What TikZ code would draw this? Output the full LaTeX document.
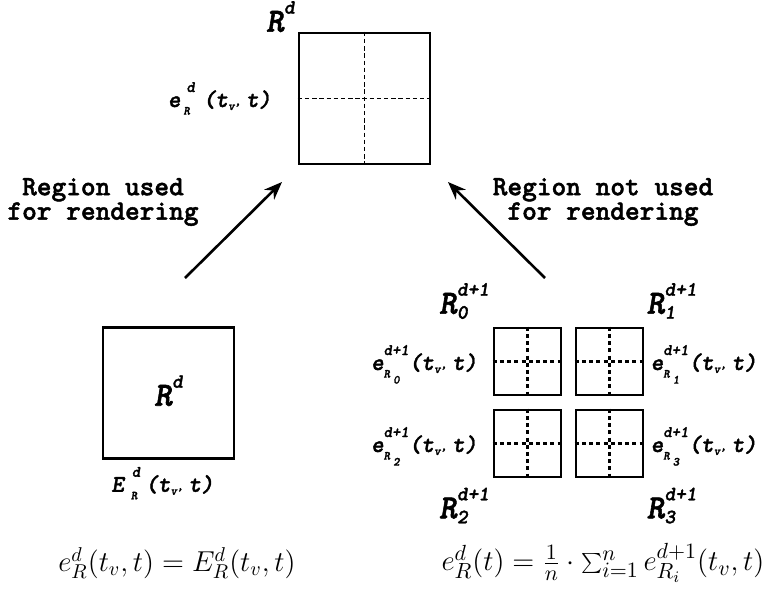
\documentclass[tikz,border=0pt]{standalone}
\usepackage{fontspec}
\usetikzlibrary{arrows.meta}

\newfontfamily\courupfont{lmmonolt10-bold.otf}[FakeBold=1.6]
\newfontfamily\courslfont{lmmonolt10-boldoblique.otf}[FakeBold=1.6]

\newcommand{\bigfont}{\courslfont\fontsize{17}{20}\selectfont}
\newcommand{\midfont}{\courslfont\fontsize{10.2}{12}\selectfont}
\newcommand{\lblfont}{\courslfont\fontsize{12}{14}\selectfont}
\newcommand{\supfont}{\courslfont\fontsize{8}{9}\selectfont}
\newcommand{\subfont}{\courslfont\fontsize{6.2}{7}\selectfont}
\newcommand{\notefont}{\courupfont\fontsize{14}{12.2}\selectfont}

% stacked superscript / subscript (sup, raise, sub, lower)
\newcommand{\supsub}[4]{%
\setbox0\hbox{#1}\setbox2\hbox{#3}%
\ifdim\wd0>\wd2 \dimen0=\wd0 \else \dimen0=\wd2 \fi
\rlap{\raise#2\box0}\lower#4\hbox to\dimen0{\box2\hfil}}

\newcommand{\regname}[2]{{\bigfont R}\supsub{\midfont #1}{9pt}{\midfont #2}{2.5pt}}
\newcommand{\errname}[3]{{\lblfont #1}\supsub{\supfont #2}{7.5pt}{\subfont #3}{3.8pt}%
{\lblfont (t}\lower1.5pt\hbox{\subfont v\raise2.5pt\hbox{,}}\kern2.5pt{\lblfont t)}}

\begin{document}
\begin{tikzpicture}[
x=0.5pt,y=-0.5pt,
regionbox/.style={draw,line width=1.3pt,minimum size=65.5pt,inner sep=0pt},
childbox/.style={draw,line width=1.3pt,minimum size=33.5pt,inner sep=0pt},
split/.style={line width=0.9pt,dash pattern=on 2.2pt off 1.4pt},
childsplit/.style={line width=1.1pt,dash pattern=on 2pt off 1.6pt},
tag/.style={inner sep=0pt},
pointer/.style={line width=1.3pt,-{Stealth[length=9pt,width=7pt]}}
]

\useasboundingbox (0,0) rectangle (768,590);

%%%%%%%%%%%%%%%%%%%%%%%%%%%%%%%%%%%%%%%%%%%%%%%%%%%%%%%%%%%%%%
% PARENT REGION
%%%%%%%%%%%%%%%%%%%%%%%%%%%%%%%%%%%%%%%%%%%%%%%%%%%%%%%%%%%%%%

\node[regionbox](top) at (364.5,98.5){};

\draw[split] (top.north)--(top.south);
\draw[split] (top.west)--(top.east);

\node[tag,anchor=base west](topname)
at ([xshift=-16pt]top.north west)
{\regname{d}{}};

\node[tag,anchor=base east](toperr)
at ([xshift=-13pt,yshift=-4.25pt]top.west)
{\errname{e}{\kern3pt d\kern4pt}{\kern1.5pt R}};

%%%%%%%%%%%%%%%%%%%%%%%%%%%%%%%%%%%%%%%%%%%%%%%%%%%%%%%%%%%%%%
% LEFT: REGION USED
%%%%%%%%%%%%%%%%%%%%%%%%%%%%%%%%%%%%%%%%%%%%%%%%%%%%%%%%%%%%%%

\node[regionbox](used) at (168.5,393){};

\node[tag](usedname)
at (used.center)
{\regname{d}{}};

\node[tag,anchor=base](usederr)
at ([xshift=-3pt,yshift=-16pt]used.south)
{\errname{E}{\kern4pt d\kern2.5pt}{\kern3.5pt R}};

\node[align=center,font=\notefont](usednote)
at (103,202)
{Region used\\for rendering};

%%%%%%%%%%%%%%%%%%%%%%%%%%%%%%%%%%%%%%%%%%%%%%%%%%%%%%%%%%%%%%
% RIGHT: CHILD REGIONS
%%%%%%%%%%%%%%%%%%%%%%%%%%%%%%%%%%%%%%%%%%%%%%%%%%%%%%%%%%%%%%

\node[childbox](sub0) at (527.5,361.5){};
\node[childbox](sub1) at ([xshift=41pt]sub0.center){};
\node[childbox](sub2) at ([yshift=-41pt]sub0.center){};
\node[childbox](sub3) at ([xshift=41pt]sub2.center){};

\draw[childsplit] (sub0.north)--(sub0.south);
\draw[childsplit] (sub0.west)--(sub0.east);
\draw[childsplit] (sub1.north)--(sub1.south);
\draw[childsplit] (sub1.west)--(sub1.east);
\draw[childsplit] (sub2.north)--(sub2.south);
\draw[childsplit] (sub2.west)--(sub2.east);
\draw[childsplit] (sub3.north)--(sub3.south);
\draw[childsplit] (sub3.west)--(sub3.east);

\node[tag,anchor=base west](name0)
at ([xshift=-27pt,yshift=6.5pt]sub0.north west)
{\regname{d+1}{0}};

\node[tag,anchor=base west](name1)
at ([xshift=1pt,yshift=6.5pt]sub1.north east)
{\regname{d+1}{1}};

\node[tag,anchor=base west](name2)
at ([xshift=-27pt,yshift=-20pt]sub2.south west)
{\regname{d+1}{2}};

\node[tag,anchor=base west](name3)
at ([xshift=1pt,yshift=-20pt]sub3.south east)
{\regname{d+1}{3}};

\node[tag,anchor=base east](err0)
at ([xshift=-7.5pt,yshift=-4.25pt]sub0.west)
{\errname{e}{d+1}{R\kern1.5pt\lower3pt\hbox{0}}};

\node[tag,anchor=base west](err1)
at ([xshift=3pt,yshift=-4.25pt]sub1.east)
{\errname{e}{d+1}{R\kern1.5pt\lower3pt\hbox{1}}};

\node[tag,anchor=base east](err2)
at ([xshift=-7.5pt,yshift=-4.25pt]sub2.west)
{\errname{e}{d+1}{R\kern1.5pt\lower3pt\hbox{2}}};

\node[tag,anchor=base west](err3)
at ([xshift=3pt,yshift=-4.25pt]sub3.east)
{\errname{e}{d+1}{R\kern1.5pt\lower3pt\hbox{3}}};

\node[align=center,font=\notefont](unusednote)
at (603,202)
{Region not used\\for rendering};

%%%%%%%%%%%%%%%%%%%%%%%%%%%%%%%%%%%%%%%%%%%%%%%%%%%%%%%%%%%%%%
% FORMULAS
%%%%%%%%%%%%%%%%%%%%%%%%%%%%%%%%%%%%%%%%%%%%%%%%%%%%%%%%%%%%%%

\node[font=\fontsize{14}{17}\selectfont](usedeq)
at (177,563)
{$e^d_R(t_v,t)=E^d_R(t_v,t)$};

\node[font=\fontsize{15.3}{18}\selectfont](unusedeq)
at (603,563)
{$e^d_R(t)=\frac{1}{n}\cdot\sum_{i=1}^{n}e^{d+1}_{R_i}(t_v,t)$};

%%%%%%%%%%%%%%%%%%%%%%%%%%%%%%%%%%%%%%%%%%%%%%%%%%%%%%%%%%%%%%
% ARROWS
%%%%%%%%%%%%%%%%%%%%%%%%%%%%%%%%%%%%%%%%%%%%%%%%%%%%%%%%%%%%%%

\coordinate (usedtail) at (185,278);
\coordinate (usedhead) at (282,182);
\coordinate (unusedtail) at (545,278);
\coordinate (unusedhead) at (448,182);

\draw[pointer] (usedtail)--(usedhead);
\draw[pointer] (unusedtail)--(unusedhead);

\end{tikzpicture}
\end{document}
